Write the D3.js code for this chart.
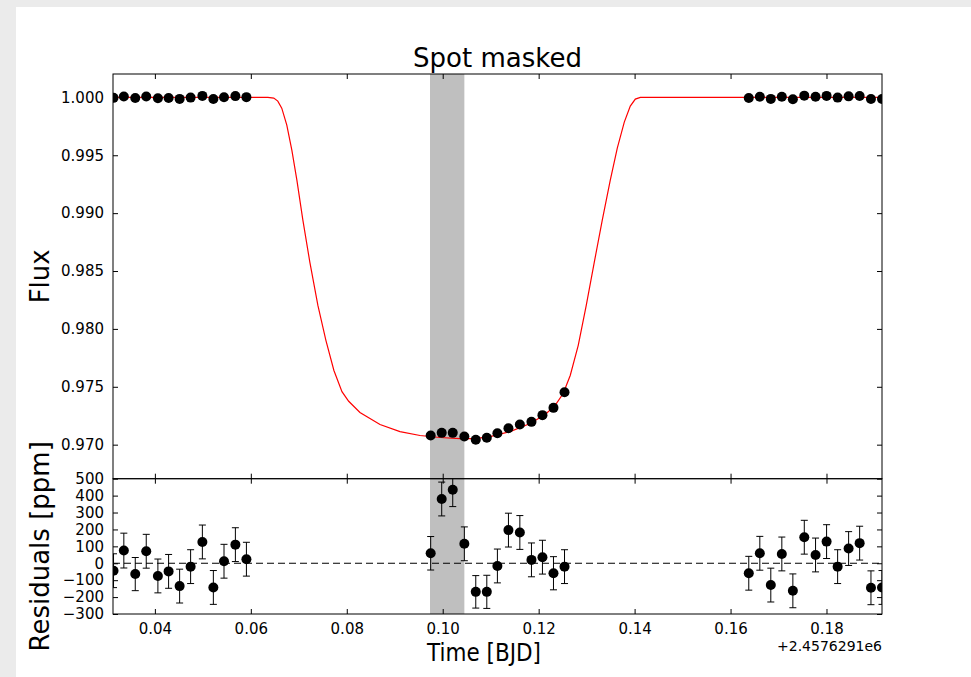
<!DOCTYPE html>
<html><head><meta charset="utf-8">
<script src="https://cdn.jsdelivr.net/npm/d3@7"></script>
<style>
html,body{margin:0;padding:0;background:#ebebeb;}
svg{display:block;font-family:"DejaVu Sans",sans-serif;}
</style></head>
<body><svg id="c" width="971" height="677"></svg>
<script>
// ---- data (time offsets from 2457629.1 BJD) ----
const times = [0.03138,0.03353,0.03591,0.03820,0.04063,0.04286,0.04516,0.04745,0.04990,0.05219,0.05441,0.05678,0.05908,
  0.09749,0.09979,0.10209,0.10451,0.10689,0.10919,0.11140,0.11370,0.11608,0.11850,0.12079,0.12309,0.12539,
  0.16380,0.16610,0.16839,0.17069,0.17299,0.17537,0.17772,0.18002,0.18232,0.18461,0.18691,0.18927,0.19157];
const flux = [0.99996,1.00008,0.99994,1.00007,0.99993,0.99995,0.99987,0.99998,1.00013,0.99986,1.00001,1.00011,1.00002,
  0.97079,0.97102,0.97102,0.97070,0.97042,0.97059,0.97099,0.97142,0.97174,0.97197,0.97255,0.97318,0.97453,
  0.99994,1.00006,0.99987,1.00006,0.99984,1.00015,1.00005,1.00013,0.99998,1.00009,1.00012,0.99986,0.99986];
const residuals = [-44,75,-64,71,-75,-48,-135,-20,126,-143,12,110,24,
  59,380,435,115,-169,-169,-16,196,182,20,36,-59,-20,
  -59,59,-129,55,-163,154,49,128,-20,87,119,-145,-143];
const resErr = [100,103,98,100,100,100,100,100,100,100,100,100,100,
  99,100,100,100,96,98,100,100,100,100,100,98,100,
  100,100,100,100,100,100,100,100,100,100,100,100,100];
const modelTime = [0.03127,0.06355,0.06478,0.06562,0.06645,0.0675,0.06855,0.0696,0.07085,0.07231,0.07398,0.07565,0.07732,0.07900,0.08040,0.08275,0.08693,0.09109,0.09527,0.09944,0.10361,0.10674,0.10987,0.11405,0.11822,0.12136,0.12344,0.12511,0.12658,0.12825,0.12992,0.13159,0.13326,0.13493,0.13639,0.13785,0.1391,0.14015,0.1412,0.19157];
const modelFlux = [1.0,1.0,0.99994,0.99968,0.99907,0.99760,0.99544,0.99285,0.98939,0.98575,0.98203,0.97901,0.97641,0.97458,0.97375,0.97278,0.97174,0.97113,0.97079,0.97062,0.97053,0.97053,0.97070,0.97113,0.97183,0.97261,0.97339,0.97442,0.97598,0.97858,0.98203,0.98575,0.98939,0.99285,0.99562,0.99786,0.99925,0.99985,1.0,1.0];
const spotSpan = [0.09735,0.10451];
const xTicks = [0.04,0.06,0.08,0.10,0.12,0.14,0.16,0.18];
const fluxTicks = [0.970,0.975,0.980,0.985,0.990,0.995,1.000];
const resTicks = [-300,-200,-100,0,100,200,300,400,500];
const title = "Spot masked";
const xLabel = "Time [BJD]";
const offsetLabel = "+2.4576291e6";

// ---- layout ----
const L=113, R=882, T1=74, B1=478.7, T2=478.7, B2=614;
const svg = d3.select("#c");
svg.append("rect").attr("x",16).attr("y",7).attr("width",971-16).attr("height",677-7).attr("fill","#fff");

const defs = svg.append("defs");
defs.append("clipPath").attr("id","cTop").append("rect").attr("x",L).attr("y",T1).attr("width",R-L).attr("height",B1-T1);
defs.append("clipPath").attr("id","cBot").append("rect").attr("x",L).attr("y",T2).attr("width",R-L).attr("height",B2-T2);

const x = d3.scaleLinear().domain([0.03127,0.19157]).range([L,R]);
const yF = d3.scaleLinear().domain([0.96706,1.00202]).range([B1,T1]);
const yR = d3.scaleLinear().domain([-300,500]).range([B2,T2]);

function panel(top, bottom, clip){
  const g = svg.append("g").attr("clip-path",`url(#${clip})`);
  g.append("rect").attr("x",x(spotSpan[0])).attr("y",top).attr("width",x(spotSpan[1])-x(spotSpan[0])).attr("height",bottom-top).attr("fill","#bfbfbf");
  return g;
}
const gTop = panel(T1,B1,"cTop");
const gBot = panel(T2,B2,"cBot");

// model curve
const line = d3.line().x((d,i)=>x(modelTime[i])).y((d,i)=>yF(modelFlux[i]));
gTop.append("path").datum(modelTime).attr("d",line).attr("fill","none").attr("stroke","#ff0000").attr("stroke-width",1.2);
// flux points
gTop.selectAll("circle").data(times).join("circle")
  .attr("cx",d=>x(d)).attr("cy",(d,i)=>yF(flux[i])).attr("r",5).attr("fill","#000");

// residuals
gBot.append("line").attr("x1",L).attr("x2",R).attr("y1",yR(0)).attr("y2",yR(0))
  .attr("stroke","#000").attr("stroke-width",1.2).attr("stroke-dasharray","7,4");
const eb = gBot.selectAll("g.eb").data(times).join("g").attr("class","eb");
eb.append("line").attr("x1",d=>x(d)).attr("x2",d=>x(d))
  .attr("y1",(d,i)=>yR(residuals[i]-resErr[i])).attr("y2",(d,i)=>yR(residuals[i]+resErr[i])).attr("stroke","#000").attr("stroke-width",1);
[-1,1].forEach(s=>{
  eb.append("line").attr("x1",d=>x(d)-3.5).attr("x2",d=>x(d)+3.5)
    .attr("y1",(d,i)=>yR(residuals[i]+s*resErr[i])).attr("y2",(d,i)=>yR(residuals[i]+s*resErr[i])).attr("stroke","#000").attr("stroke-width",1);
});
eb.append("circle").attr("cx",d=>x(d)).attr("cy",(d,i)=>yR(residuals[i])).attr("r",5).attr("fill","#000");

// axes
const TS=5;
function addAxis(axis, tx, ty){
  const g = svg.append("g").attr("transform",`translate(${tx},${ty})`).call(axis);
  g.select(".domain").remove();
  g.selectAll(".tick line").attr("stroke","#000");
  g.selectAll("text").attr("fill","#000").style("font-size","15px").style("font-family","DejaVu Sans");
  return g;
}
addAxis(d3.axisTop(x).tickValues(xTicks).tickSize(-TS).tickFormat(""),0,T1);
addAxis(d3.axisBottom(x).tickValues(xTicks).tickSize(-TS).tickFormat(""),0,B1);
addAxis(d3.axisLeft(yF).tickValues(fluxTicks).tickSize(-TS).tickPadding(9).tickFormat(d3.format(".3f")),L,0);
addAxis(d3.axisRight(yF).tickValues(fluxTicks).tickSize(-TS).tickFormat(""),R,0);
addAxis(d3.axisTop(x).tickValues(xTicks).tickSize(-TS).tickFormat(""),0,T2);
addAxis(d3.axisBottom(x).tickValues(xTicks).tickSize(-TS).tickPadding(9).tickFormat(d3.format(".2f")),0,B2);
addAxis(d3.axisLeft(yR).tickValues(resTicks).tickSize(-TS).tickPadding(9).tickFormat(d3.format("d")),L,0);
addAxis(d3.axisRight(yR).tickValues(resTicks).tickSize(-TS).tickFormat(""),R,0);

// frames
svg.append("rect").attr("x",L).attr("y",T1).attr("width",R-L).attr("height",B1-T1).attr("fill","none").attr("stroke","#000").attr("stroke-width",1);
svg.append("rect").attr("x",L).attr("y",T2).attr("width",R-L).attr("height",B2-T2).attr("fill","none").attr("stroke","#000").attr("stroke-width",1);

// texts
svg.append("text").attr("x",(L+R)/2).attr("y",67).attr("text-anchor","middle").style("font-size","26px").text(title);
svg.append("text").attr("x",484).attr("y",661).attr("text-anchor","middle").style("font-size","24px")
  .attr("textLength",114).attr("lengthAdjust","spacingAndGlyphs").text(xLabel);
svg.append("text").attr("x",R).attr("y",651).attr("text-anchor","end").style("font-size","14px").text(offsetLabel);
svg.append("text").attr("transform",`translate(49,${(T1+B1)/2}) rotate(-90)`).attr("text-anchor","middle").style("font-size","26px").text("Flux");
svg.append("text").attr("transform",`translate(49,${(T2+B2)/2}) rotate(-90)`).attr("text-anchor","middle").style("font-size","26px").text("Residuals [ppm]");
</script></body></html>
